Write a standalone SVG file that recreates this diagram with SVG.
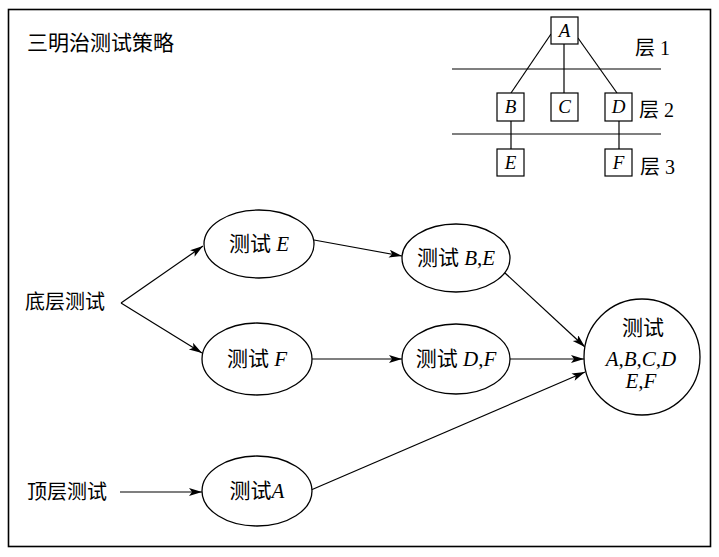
<svg xmlns="http://www.w3.org/2000/svg" width="719" height="557" viewBox="0 0 719 557">
<defs>
<marker id="arr" markerUnits="userSpaceOnUse" markerWidth="14" markerHeight="10" refX="13" refY="4" orient="auto">
<path d="M0,0 L13,4 L0,8 L3,4 z" fill="#000"/>
</marker>
<style>
.t{font-family:"Liberation Serif","Noto Sans CJK SC",serif;font-size:21px;fill:#000}
.s{font-size:19px}
.i{font-style:italic}
.n{fill:#fff;stroke:#000;stroke-width:1.3}
.b{fill:#fff;stroke:#000;stroke-width:1.2}
.l{stroke:#000;stroke-width:1.2;fill:none}
.c{stroke:#000;stroke-width:1.2;fill:none;marker-end:url(#arr)}
</style>
</defs>
<rect x="0" y="0" width="719" height="557" fill="#fff"/>
<rect x="8.5" y="9.5" width="702" height="537" fill="none" stroke="#000" stroke-width="1.6"/>
<text class="t" x="27" y="50">三明治测试策略</text>

<g id="hierarchy">
<line class="l" x1="452" y1="69" x2="661" y2="69"/>
<line class="l" x1="452" y1="134" x2="661" y2="134"/>
<line class="l" x1="551" y1="34" x2="511" y2="93"/>
<line class="l" x1="564" y1="44" x2="564" y2="93"/>
<line class="l" x1="578" y1="38" x2="617" y2="93"/>
<line class="l" x1="511" y1="121" x2="511" y2="149"/>
<line class="l" x1="619" y1="121" x2="619" y2="149"/>
<g id="boxA"><rect class="b" x="551" y="17" width="27" height="27"/><text class="t s i" x="564.5" y="37" text-anchor="middle">A</text></g>
<g id="boxB"><rect class="b" x="497" y="93" width="27" height="28"/><text class="t s i" x="510.5" y="113" text-anchor="middle">B</text></g>
<g id="boxC"><rect class="b" x="551" y="93" width="27" height="28"/><text class="t s i" x="564.5" y="113" text-anchor="middle">C</text></g>
<g id="boxD"><rect class="b" x="605" y="93" width="27" height="28"/><text class="t s i" x="618.5" y="113" text-anchor="middle">D</text></g>
<g id="boxE"><rect class="b" x="497" y="149" width="27" height="27"/><text class="t s i" x="510.5" y="169" text-anchor="middle">E</text></g>
<g id="boxF"><rect class="b" x="605" y="149" width="27" height="27"/><text class="t s i" x="618.5" y="169" text-anchor="middle">F</text></g>
<text class="t" x="635" y="55" style="font-size:20px">层 1</text>
<text class="t" x="639" y="117" style="font-size:20px">层 2</text>
<text class="t" x="640" y="174" style="font-size:20px">层 3</text>
</g>

<g id="connectors">
<line class="c" x1="121" y1="303" x2="203" y2="246"/>
<line class="c" x1="121" y1="303" x2="202" y2="353"/>
<line class="c" x1="314" y1="240" x2="402" y2="256"/>
<line class="c" x1="312" y1="359" x2="402" y2="359"/>
<line class="c" x1="120" y1="492" x2="202" y2="492"/>
<line class="c" x1="505" y1="273" x2="585" y2="347"/>
<line class="c" x1="510" y1="359" x2="584" y2="359"/>
<line class="c" x1="311" y1="490" x2="585" y2="372"/>
</g>

<g id="bottom"><text class="t" x="25" y="309" style="font-size:20px">底层测试</text></g>
<g id="top"><text class="t" x="27" y="499" style="font-size:20px">顶层测试</text></g>

<g id="testE"><ellipse class="n" cx="259" cy="244" rx="55" ry="34"/><text class="t" x="259" y="251" text-anchor="middle">测试 <tspan class="i">E</tspan></text></g>
<g id="testBE"><ellipse class="n" cx="456" cy="258" rx="54" ry="34"/><text class="t" x="456" y="265" text-anchor="middle">测试 <tspan class="i">B</tspan>,<tspan class="i">E</tspan></text></g>
<g id="testF"><ellipse class="n" cx="257" cy="359" rx="55" ry="36"/><text class="t" x="257" y="366" text-anchor="middle">测试 <tspan class="i">F</tspan></text></g>
<g id="testDF"><ellipse class="n" cx="456" cy="359" rx="54" ry="35"/><text class="t" x="456" y="366" text-anchor="middle">测试 <tspan class="i">D</tspan>,<tspan class="i">F</tspan></text></g>
<g id="testA"><ellipse class="n" cx="257" cy="491" rx="55" ry="35"/><text class="t" x="257" y="498" text-anchor="middle">测试<tspan class="i">A</tspan></text></g>
<g id="testAll"><circle class="n" cx="642" cy="357" r="58"/>
<text class="t" x="643" y="335" text-anchor="middle">测试</text>
<text class="t i" x="641" y="366" text-anchor="middle">A,B,C,D</text>
<text class="t i" x="641" y="388" text-anchor="middle">E,F</text>
</g>
</svg>
